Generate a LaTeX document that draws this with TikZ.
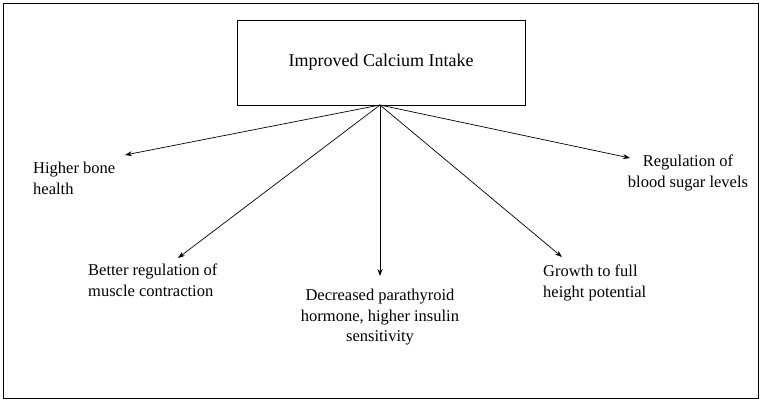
\documentclass[tikz,border=0pt]{standalone}
\usepackage{fontspec}
\usetikzlibrary{arrows.meta}
\setmainfont{Liberation Serif}
\begin{document}
\begin{tikzpicture}[x=1pt,y=-1pt,
  lbl/.style={align=left,font=\fontsize{16.5}{20.5}\selectfont,inner sep=0pt},
  arr/.style={-{Stealth[length=7pt,width=5pt]},line width=0.7pt}]
\useasboundingbox (0,0) rectangle (762,402);
\draw[line width=0.8pt] (3,3) rectangle (758,398);
\node[draw,line width=0.8pt,minimum width=288pt,minimum height=85pt,font=\fontsize{18}{21}\selectfont] (top) at (381,62.5) {Improved Calcium Intake};
\coordinate (o) at (380,105);
\coordinate (t1) at (125,155);
\coordinate (t2) at (178,258);
\coordinate (t3) at (380,276);
\coordinate (t4) at (562,257);
\coordinate (t5) at (630,158);
\foreach \t in {t1,t2,t3,t4,t5} \draw[arr] (o) -- (\t);
\node[lbl,anchor=north west] (l1) at (33,162) {Higher bone\\health};
\node[lbl,anchor=north west] (l2) at (88,264) {Better regulation of\\muscle contraction};
\node[lbl,align=center,anchor=north] (l3) at (380,289) {Decreased parathyroid\\hormone, higher insulin\\sensitivity};
\node[lbl,anchor=north west] (l4) at (543,265) {Growth to full\\height potential};
\node[lbl,align=center,anchor=north] (l5) at (688,155) {Regulation of\\blood sugar levels};
\end{tikzpicture}
\end{document}
